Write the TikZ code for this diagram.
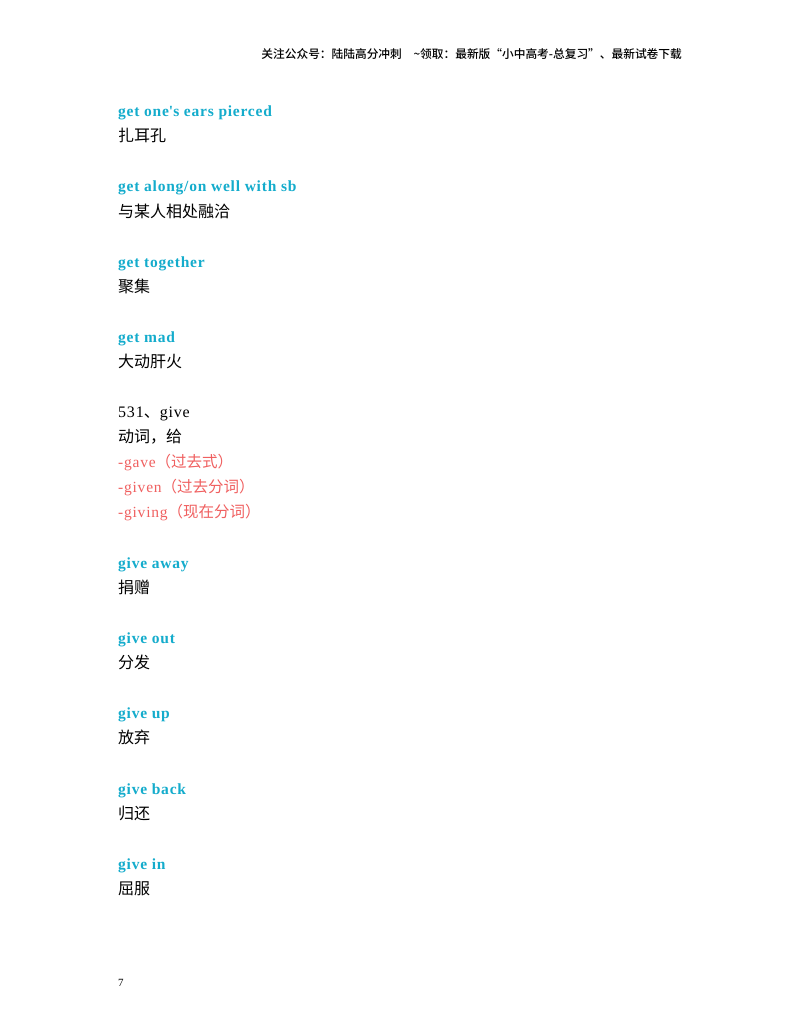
\documentclass[tikz,border=0pt]{standalone}
\usepackage{fontspec}
\setmainfont{Liberation Serif}[LetterSpace=5]
\newfontfamily\cjk{Noto Sans CJK SC}
\newfontfamily\cjkm{Noto Sans CJK SC Medium}
\definecolor{kw}{RGB}{20,172,204}
\definecolor{fm}{RGB}{240,96,96}
\begin{document}
\begin{tikzpicture}[x=1pt,y=-1pt]
\useasboundingbox[fill=white] (0,0) rectangle (800,1035);
\tikzset{
 en/.style={anchor=base west,inner sep=0,font=\fontsize{15.5}{15}\selectfont\bfseries,text=kw},
 zh/.style={anchor=base west,inner sep=0,font=\fontsize{16}{16}\selectfont\cjk,text=black},
 rd/.style={anchor=base west,inner sep=0,font=\fontsize{15.5}{16}\selectfont,text=fm},
 pl/.style={anchor=base west,inner sep=0,font=\fontsize{16}{16}\selectfont,text=black}}
\node[anchor=base east,inner sep=0,font=\fontsize{11.7}{12}\selectfont\cjkm] (hd) at (682,59) {关注公众号：陆陆高分冲刺\quad \textasciitilde 领取：最新版“小中高考-总复习”、最新试卷下载};
\node[en] (a1) at (118,117) {get one\textquotesingle s ears pierced};
\node[zh] (b1) at (118,142) {扎耳孔};
\node[en] (a2) at (118,192) {get along/on well with sb};
\node[zh] (b2) at (118,217) {与某人相处融洽};
\node[en] (a3) at (118,267) {get together};
\node[zh] (b3) at (118,292) {聚集};
\node[en] (a4) at (118,342) {get mad};
\node[zh] (b4) at (118,367) {大动肝火};
\node[pl] (g0) at (118,417) {531{\cjk 、}give};
\node[zh] (g1) at (118,442) {动词，给};
\node[rd] (g2) at (118,467) {-gave{\cjk （过去式）}};
\node[rd] (g3) at (118,492) {-given{\cjk （过去分词）}};
\node[rd] (g4) at (118,517) {-giving{\cjk （现在分词）}};
\node[en] (a5) at (118,568) {give away};
\node[zh] (b5) at (118,593) {捐赠};
\node[en] (a6) at (118,643) {give out};
\node[zh] (b6) at (118,668) {分发};
\node[en] (a7) at (118,718) {give up};
\node[zh] (b7) at (118,743) {放弃};
\node[en] (a8) at (118,794) {give back};
\node[zh] (b8) at (118,819) {归还};
\node[en] (a9) at (118,869) {give in};
\node[zh] (b9) at (118,894) {屈服};
\node[anchor=base west,inner sep=0,font=\fontsize{11}{11}\selectfont] (pg) at (118,986) {7};
\end{tikzpicture}
\end{document}
